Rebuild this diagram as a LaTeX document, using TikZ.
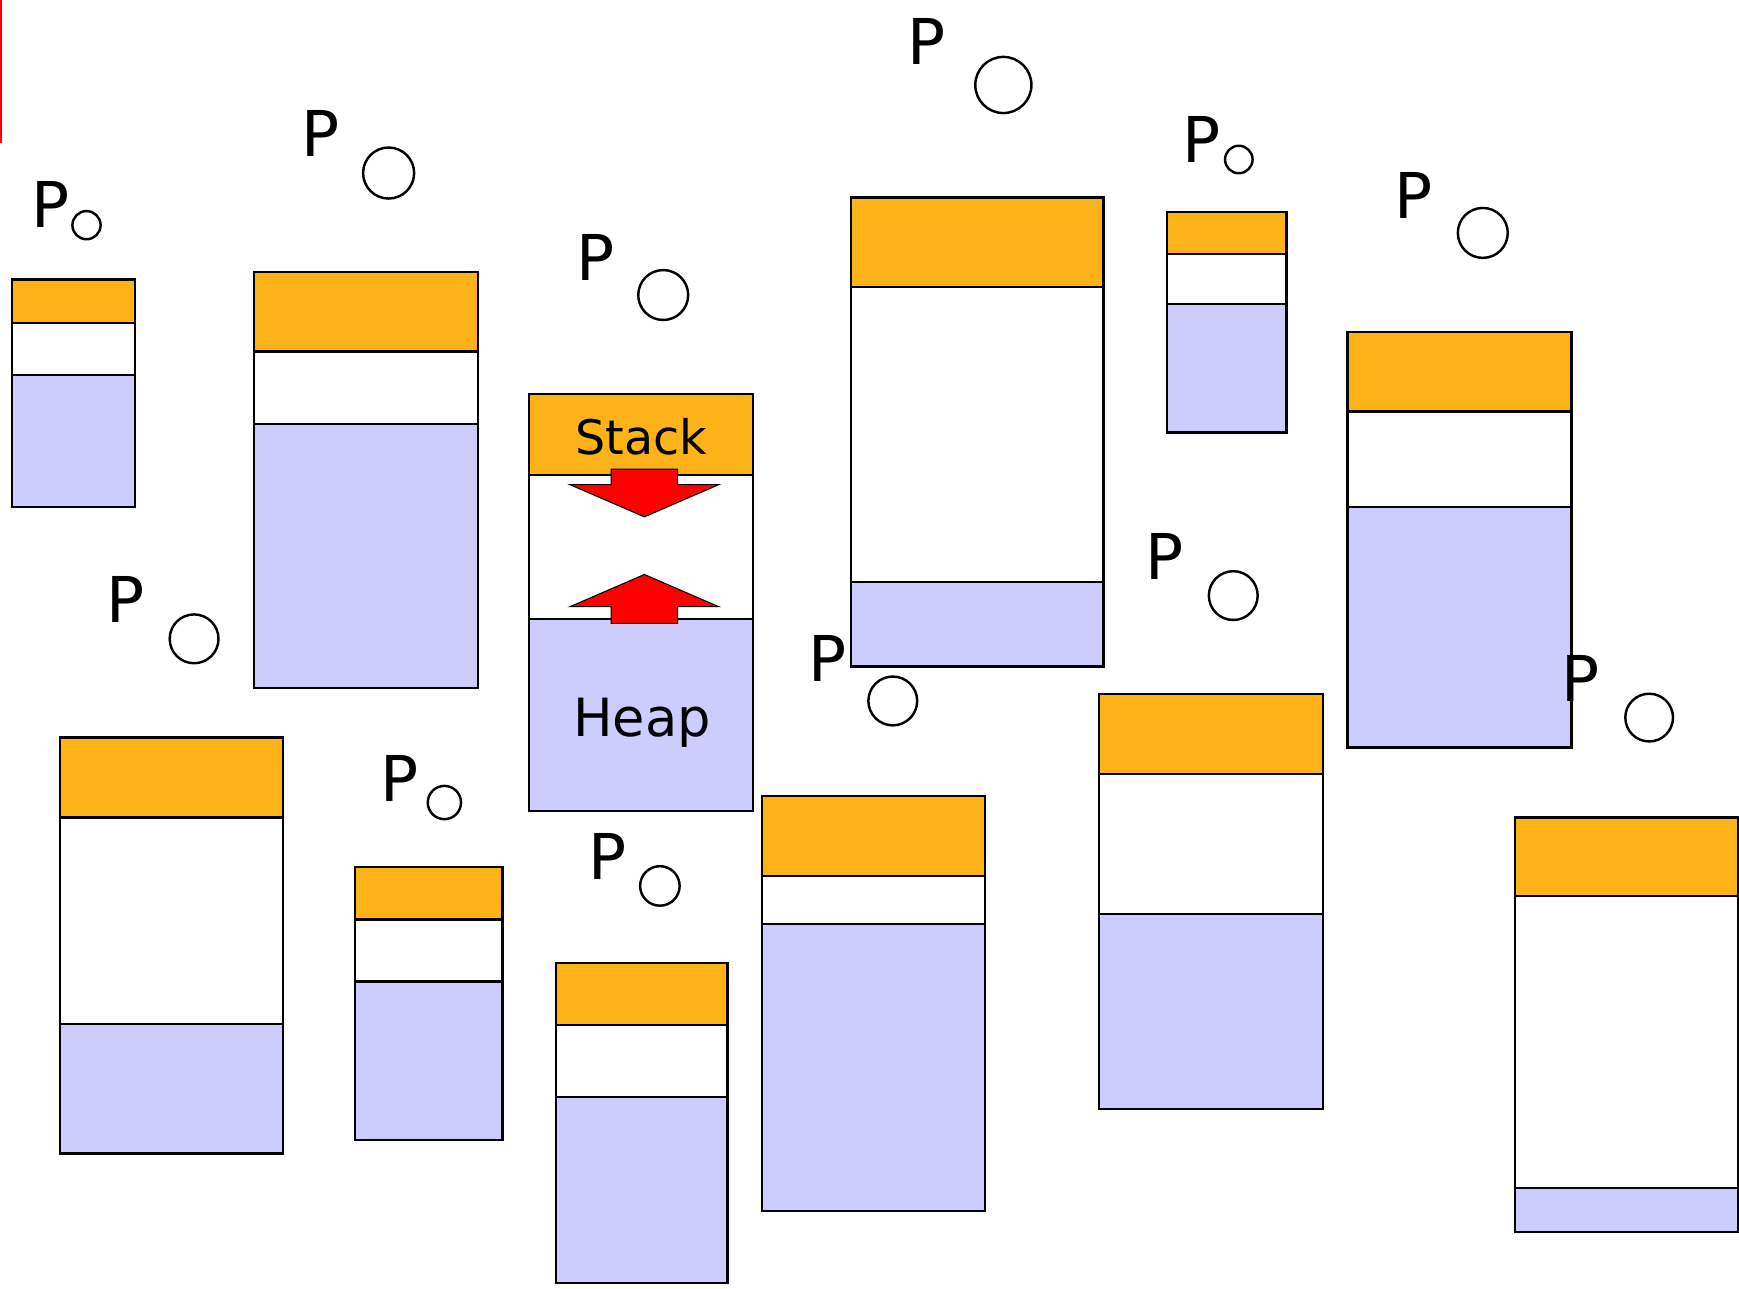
\documentclass[tikz,border=0pt]{standalone}
\usepackage{fontspec}
\setmainfont{DejaVu Sans}
\definecolor{stk}{RGB}{253,179,24}
\definecolor{hp}{RGB}{204,204,255}
\newcommand\membox[6]{%
  \fill[stk] (#1,#3) rectangle (#2,#4);
  \fill[white] (#1,#4) rectangle (#2,#5);
  \fill[hp] (#1,#5) rectangle (#2,#6);
  \draw[boxline] (#1,#3) rectangle (#2,#6);
  \draw[boxline] (#1,#4) -- (#2,#4) (#1,#5) -- (#2,#5);
}
\begin{document}
\begin{tikzpicture}[x=0.01cm,y=-0.01cm,
  boxline/.style={black,line width=0.02cm},
  plabel/.style={anchor=base,inner sep=0pt,font=\fontsize{16.2pt}{18pt}\selectfont},
  ring/.style={circle,draw=black,line width=0.022cm,inner sep=0pt},
  bigarrow/.style={fill=red,draw=black,line width=0.01cm,line join=miter}]
\useasboundingbox (0,0) rectangle (1568,1162);
\draw[red,line width=0.016cm] (0.8,0) -- (0.8,129);
% boxes: x1 x2 ytop ystack yheap ybottom
\membox{11}{122}{252}{291}{338}{457}
\membox{229}{431}{245}{317}{382}{620}
\membox{477}{679}{355}{428}{558}{731}
\membox{767}{995}{178}{259}{525}{601}
\membox{1052}{1160}{191}{229}{274}{390}
\membox{1215}{1417}{299}{371}{457}{674}
\membox{54}{255}{665}{737}{923}{1040}
\membox{320}{453}{782}{829}{885}{1028}
\membox{501}{656}{868}{924}{989}{1157}
\membox{687}{888}{718}{790}{833}{1092}
\membox{991}{1193}{626}{698}{824}{1000}
\membox{1366}{1567}{737}{808}{1071}{1111}
% labels in the main box
\node[anchor=base,inner sep=0pt,font=\fontsize{12.2pt}{14pt}\selectfont] (stack) at (578.5,410) {Stack};
\node[anchor=base,inner sep=0pt,font=\fontsize{13.5pt}{15pt}\selectfont] (heap) at (579,664) {Heap};
% arrows
\draw[bigarrow] (551,423) -- (611,423) -- (611,437) -- (648,437) -- (581,466) -- (514,437) -- (551,437) -- cycle;
\draw[bigarrow] (551,562) -- (611,562) -- (611,547) -- (648,547) -- (581,518) -- (514,547) -- (551,547) -- cycle;
% P labels
\node[plabel] (p1) at (45.5,205.5) {P};
\node[plabel] (p2) at (289,141.3) {P};
\node[plabel] (p3) at (537,252.7) {P};
\node[plabel] (p4) at (835,58) {P};
\node[plabel] (p5) at (1083.5,146.8) {P};
\node[plabel] (p6) at (1275,196.7) {P};
\node[plabel] (p7) at (113,561.7) {P};
\node[plabel] (p8) at (1050,522.7) {P};
\node[plabel] (p9) at (746,614.7) {P};
\node[plabel] (p10) at (1425,632.7) {P};
\node[plabel] (p11) at (360,722.5) {P};
\node[plabel] (p12) at (548,793.3) {P};
% circles
\node[ring,minimum size=0.254cm] (c1) at (78,203) {};
\node[ring,minimum size=0.46cm] (c2) at (350.4,156) {};
\node[ring,minimum size=0.45cm] (c3) at (598,266) {};
\node[ring,minimum size=0.506cm] (c4) at (904.7,76.6) {};
\node[ring,minimum size=0.248cm] (c5) at (1117,143.8) {};
\node[ring,minimum size=0.45cm] (c6) at (1337,210) {};
\node[ring,minimum size=0.44cm] (c7) at (175,576) {};
\node[ring,minimum size=0.44cm] (c8) at (1112,537) {};
\node[ring,minimum size=0.44cm] (c9) at (805,632) {};
\node[ring,minimum size=0.43cm] (c10) at (1487,647) {};
\node[ring,minimum size=0.30cm] (c11) at (400.7,723.6) {};
\node[ring,minimum size=0.356cm] (c12) at (595,798.8) {};
\end{tikzpicture}
\end{document}
